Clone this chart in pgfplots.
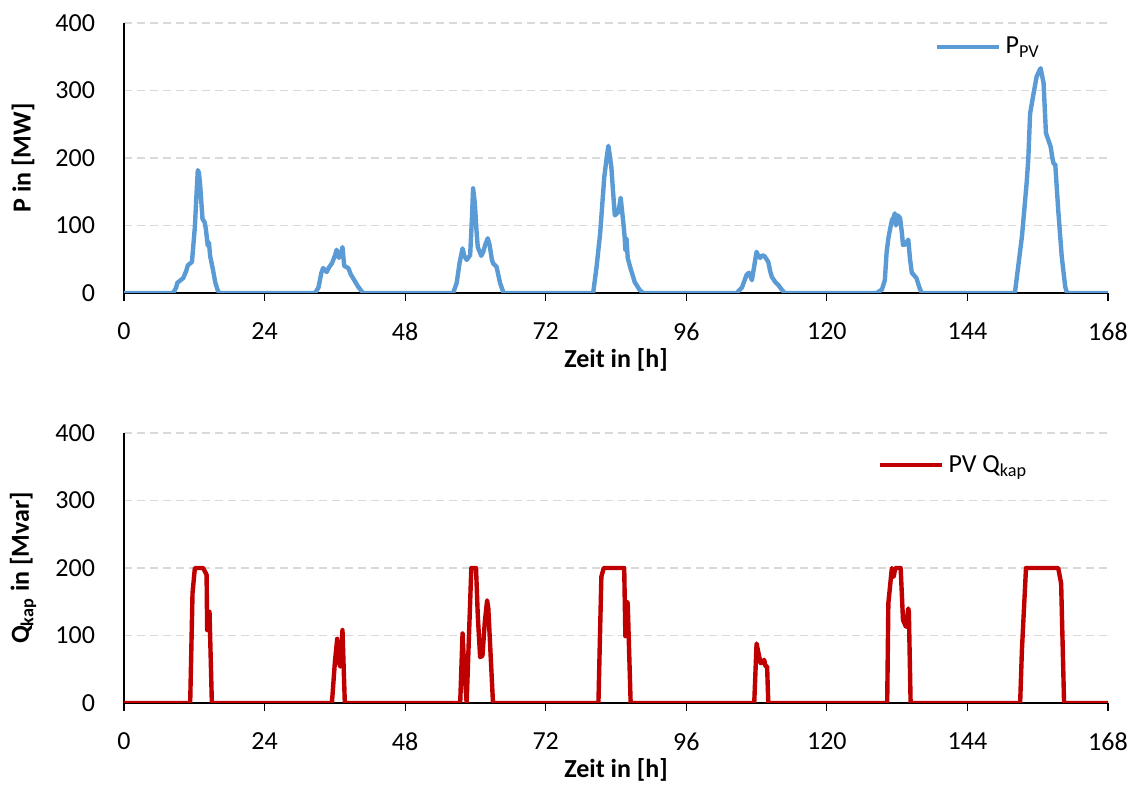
\documentclass[border=0pt]{standalone}
\usepackage{fontspec}
\setmainfont{Carlito}
\usepackage{pgfplots}
\pgfplotsset{compat=1.18}

\definecolor{pvblue}{RGB}{91,155,213}
\definecolor{qred}{RGB}{192,0,0}
\definecolor{gridgray}{RGB}{217,217,217}

\pgfplotsset{
  weekplot/.style={
    set layers,
    scale only axis,
    width=492pt, height=135pt,
    xmin=0, xmax=168, ymin=0, ymax=400,
    xtick={0,24,...,168}, ytick={0,100,...,400},
    axis x line*=bottom, axis y line*=left,
    axis line style={black, line width=0.6pt, -},
    ymajorgrids,
    major grid style={gridgray, line width=0.7pt, dash pattern=on 4pt off 2.5pt},
    tick align=outside,
    major tick length=4pt,
    xtick style={black, line width=0.6pt},
    ytick style={draw=none},
    tick label style={font=\fontsize{13}{15}\selectfont},
    /pgf/number format/assume math mode=true,
    yticklabel style={xshift=-7pt},
    xticklabel style={yshift=-7.5pt},
    label style={font=\bfseries\fontsize{13}{15}\selectfont},
    xlabel={Zeit in [h]},
    xlabel style={at={(axis description cs:0.5,-0.248)}, anchor=center},
    ylabel style={at={(axis description cs:-0.1026,0.5)}, anchor=center},
    legend style={draw=none, fill=none, inner sep=0pt,
      font=\fontsize{13}{15}\selectfont},
    legend cell align=left,
    legend image code/.code={\draw[#1] (0pt,0pt) -- (31pt,0pt);},
  }
}

\begin{document}
\begin{tikzpicture}

% active power of the PV plants
\begin{axis}[weekplot, at={(62pt,246pt)},
  ylabel={P in [MW]},
  legend style={at={(0.824,0.911)}, anchor=west}]
\addplot[pvblue, line width=2.2pt, line join=round] coordinates {
 (0,0) (8.4,0) (8.9,8) (9.1,15) (10.1,22) (10.6,32) (10.9,41) (11.6,46)
 (12.1,98) (12.4,150) (12.6,182) (12.8,178) (13.0,160) (13.4,110) (13.8,104)
 (14.0,93) (14.3,70) (14.5,75) (14.7,55) (15.2,34) (15.6,15) (16.0,4) (16.3,0)
 (32.6,0) (33.2,8) (33.7,30) (34.0,37) (34.6,31) (35.0,38) (35.5,44) (36.0,55)
 (36.3,64) (36.7,52) (37.1,60) (37.3,68) (37.6,40) (38.3,37) (38.7,28) (39.1,22)
 (40.0,9) (40.8,0)
 (56.2,0) (56.8,15) (57.3,45) (57.8,66) (58.1,55) (58.5,49) (59.1,56) (59.4,110)
 (59.6,155) (59.9,133) (60.2,90) (60.4,68) (61.0,55) (61.3,60) (61.7,72) (62.1,81)
 (62.4,72) (62.8,50) (63.0,44) (63.6,39) (64.2,15) (64.8,0)
 (80.1,0) (80.7,40) (81.3,89) (82.0,172) (82.4,200) (82.7,218) (83.2,187)
 (83.5,150) (83.8,115) (84.4,120) (84.6,130) (84.8,141) (85.2,108) (85.3,100)
 (85.5,80) (85.6,64) (85.8,80) (86.0,52) (86.4,39) (87.2,16) (88.0,5) (88.6,0)
 (104.6,0) (105.5,8) (106.3,27) (106.7,30) (107.2,19) (107.6,40) (108.0,61)
 (108.3,55) (108.6,52) (109.0,56) (109.4,54) (110.0,46) (110.3,33) (110.6,24)
 (111.2,16) (111.7,12) (112.2,6) (112.8,0)
 (128.5,0) (129.4,5) (129.9,19) (130.2,60) (130.5,81) (130.8,95) (131.1,108)
 (131.4,112) (131.6,118) (131.8,100) (132.1,115) (132.5,111) (132.8,90) (133.0,71)
 (133.4,72) (133.9,79) (134.2,50) (134.5,30) (135.3,22) (135.8,8) (136.2,0)
 (152.1,0) (153.3,83) (154.1,162) (154.4,200) (154.7,266) (155.3,296) (155.8,320)
 (156.2,328) (156.5,333) (157.0,311) (157.4,237) (157.6,232) (157.8,227)
 (158.2,217) (158.5,200) (158.7,192) (159.0,190) (159.5,123) (160.1,54)
 (160.7,9) (161.0,0) (168,0)
};
\addlegendentry{P\textsubscript{PV}}
\end{axis}

% capacitive reactive power of the PV plants
\begin{axis}[weekplot, at={(62pt,41pt)},
  ylabel={Q\textsubscript{kap} in [Mvar]},
  legend style={at={(0.766,0.881)}, anchor=west}]
\addplot[qred, line width=2.2pt, line join=round] coordinates {
 (0,0) (11.3,0) (11.7,163) (12.1,200) (13.5,200) (13.8,195) (14.1,190)
 (14.2,108) (14.4,120) (14.6,135) (15.0,0)
 (35.5,0) (36.0,60) (36.4,95) (36.7,60) (36.9,54) (37.1,70) (37.3,108) (37.7,0)
 (57.4,0) (57.8,103) (58.1,50) (58.5,0) (59.3,200) (60.1,200) (60.4,130)
 (60.8,68) (61.2,70) (61.6,120) (62.0,152) (62.2,140) (62.4,105) (63.0,0)
 (81.0,0) (81.5,187) (81.9,200) (85.4,200) (85.6,99) (85.8,150) (86.0,148) (86.5,0)
 (107.6,0) (108.0,88) (108.3,75) (108.7,59) (109.0,60) (109.3,64) (109.5,55)
 (109.8,54) (110.0,0)
 (130.3,0) (130.5,148) (131.1,200) (131.4,187) (131.7,200) (132.6,200)
 (133.0,123) (133.5,113) (133.9,140) (134.0,135) (134.3,0)
 (153.0,0) (153.3,78) (154.0,200) (159.5,200) (160.0,177) (160.5,0) (168,0)
};
\addlegendentry{PV Q\textsubscript{kap}}
\end{axis}

% fixed page frame
\pgfresetboundingbox
\path[use as bounding box] (0,0) rectangle (568pt,392.5pt);
\end{tikzpicture}
\end{document}
